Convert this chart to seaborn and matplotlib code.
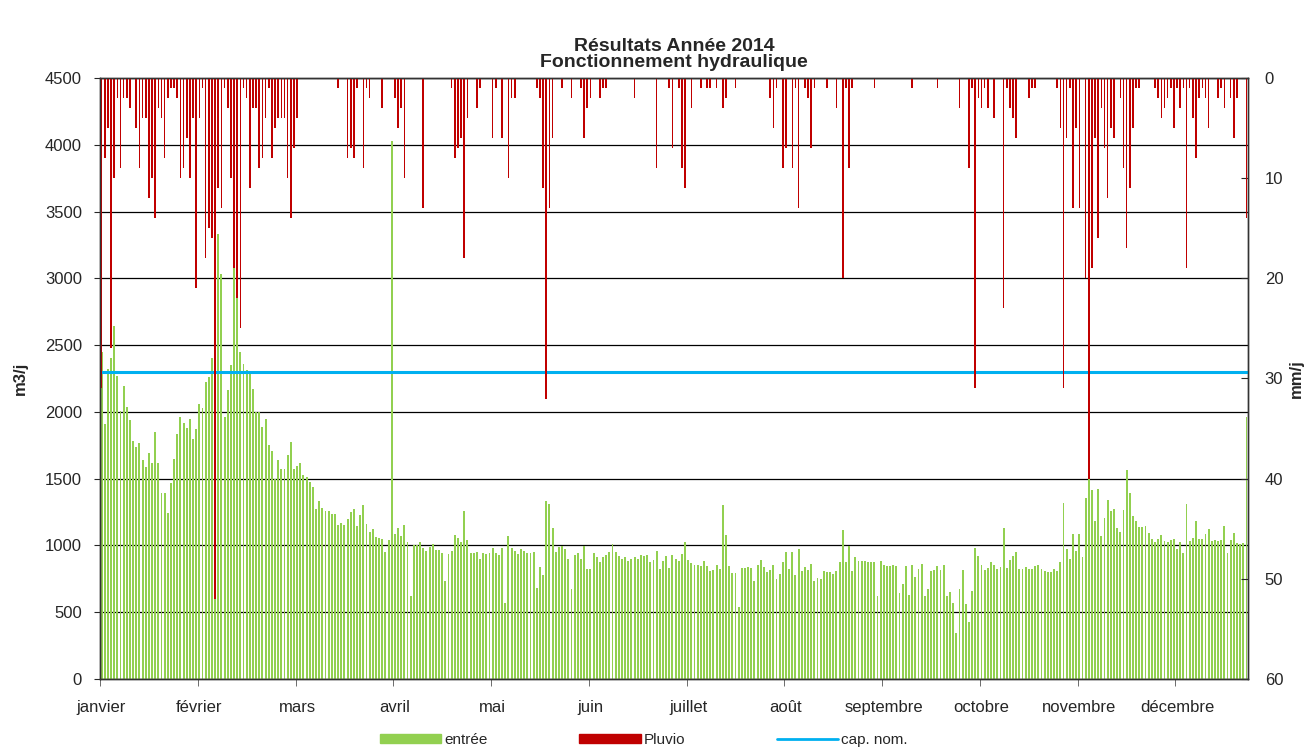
import matplotlib
matplotlib.use('Agg')
import pandas as pd
import matplotlib.pyplot as plt
import seaborn as sns
from matplotlib.patches import Patch
from matplotlib.lines import Line2D

# mois affichés tous les 31 jours (axe par catégories)
mois = ['janvier', 'février', 'mars', 'avril', 'mai', 'juin', 'juillet',
        'août', 'septembre', 'octobre', 'novembre', 'décembre']

# débit journalier entrée station (m3/j)
entree = [
    2450, 1910, 2320, 2400, 2640, 2270, 2010, 2190, 2040, 1940, 1780, 1740, 1765, 1640, 1590, 1695, 1615, 1850, 1620, 1395,
    1390, 1240, 1465, 1650, 1835, 1960, 1915, 1880, 1945, 1800, 1870, 2060, 2030, 2220, 2260, 2400, 2450, 3330, 3030, 1965,
    2160, 2350, 3080, 2850, 2450, 2360, 2315, 2295, 2170, 2000, 2000, 1885, 1950, 1755, 1710, 1500, 1637, 1572, 1572, 1677,
    1777, 1572, 1597, 1615, 1527, 1515, 1475, 1435, 1270, 1333, 1278, 1258, 1258, 1233, 1233, 1153, 1166, 1151, 1196, 1250,
    1270, 1146, 1226, 1303, 1158, 1098, 1121, 1063, 1056, 1046, 949, 1041, 4025, 1083, 1131, 1071, 1151, 1023, 621, 1006,
    1006, 1028, 983, 961, 991, 1008, 966, 966, 946, 734, 933, 958, 1078, 1053, 1028, 1258, 1041, 941, 946, 951,
    899, 941, 939, 944, 981, 946, 929, 983, 571, 1071, 983, 958, 933, 976, 958, 941, 946, 954, 679, 836,
    779, 1333, 1310, 1131, 954, 991, 996, 976, 901, 674, 926, 941, 901, 996, 821, 826, 941, 916, 874, 916,
    926, 951, 1008, 954, 924, 901, 916, 886, 901, 916, 896, 929, 924, 929, 879, 889, 958, 826, 881, 924,
    834, 929, 896, 884, 936, 1028, 891, 869, 854, 854, 849, 884, 846, 809, 814, 856, 824, 1303, 1076, 849,
    794, 794, 541, 829, 831, 841, 829, 736, 854, 891, 841, 804, 816, 856, 749, 789, 874, 951, 824, 951,
    779, 971, 809, 841, 814, 859, 736, 754, 746, 809, 804, 804, 786, 809, 874, 1116, 879, 996, 809, 916,
    884, 884, 884, 876, 876, 876, 621, 884, 851, 849, 849, 851, 844, 646, 711, 849, 631, 854, 766, 826,
    861, 621, 674, 809, 819, 849, 819, 851, 621, 654, 571, 342, 676, 814, 564, 429, 659, 981, 919, 856,
    819, 831, 876, 856, 824, 839, 1131, 831, 894, 919, 951, 826, 826, 841, 824, 826, 849, 851, 824, 809,
    799, 799, 824, 809, 874, 1318, 971, 896, 1086, 961, 1086, 911, 1353, 1800, 1415, 1183, 1420, 1073, 1203, 1338,
    1256, 1273, 1128, 1103, 1265, 1563, 1390, 1220, 1181, 1136, 1136, 1146, 1091, 1046, 1023, 1046, 1078, 1033, 1023, 1041,
    1046, 971, 1023, 946, 1310, 1033, 1056, 1183, 1046, 1046, 1083, 1121, 1036, 1041, 1033, 1041, 1146, 941, 1041, 1091,
    1016, 1008, 1021, 1960,
]

# pluviométrie journalière (mm/j)
pluvio = [
    31, 8, 5, 27, 10, 2, 9, 2, 2, 3, 0, 5, 9, 4, 4, 12, 10, 14, 3, 4,
    8, 2, 1, 1, 2, 10, 9, 6, 10, 4, 21, 4, 1, 18, 15, 16, 52, 11, 13, 1,
    3, 10, 19, 22, 25, 1, 2, 11, 3, 3, 9, 8, 4, 1, 8, 5, 4, 4, 4, 10,
    14, 7, 4, 0, 0, 0, 0, 0, 0, 0, 0, 0, 0, 0, 0, 1, 0, 0, 8, 7,
    8, 1, 0, 9, 1, 2, 0, 0, 0, 3, 0, 0, 0, 2, 5, 3, 10, 0, 0, 0,
    0, 0, 13, 0, 0, 0, 0, 0, 0, 0, 0, 1, 8, 7, 6, 18, 4, 0, 0, 3,
    1, 0, 0, 0, 6, 1, 0, 6, 0, 10, 2, 2, 0, 0, 0, 0, 0, 0, 1, 2,
    11, 32, 13, 6, 0, 0, 1, 0, 0, 2, 0, 0, 1, 6, 3, 2, 0, 0, 2, 1,
    1, 0, 0, 0, 0, 0, 0, 0, 0, 2, 0, 0, 0, 0, 0, 0, 9, 0, 0, 0,
    1, 7, 0, 1, 9, 11, 0, 3, 0, 0, 1, 0, 1, 1, 0, 1, 0, 3, 2, 0,
    0, 1, 0, 0, 0, 0, 0, 0, 0, 0, 0, 0, 2, 5, 1, 0, 9, 7, 0, 9,
    1, 13, 0, 1, 2, 7, 1, 0, 0, 0, 1, 0, 0, 3, 0, 20, 1, 9, 1, 0,
    0, 0, 0, 0, 0, 1, 0, 0, 0, 0, 0, 0, 0, 0, 0, 0, 0, 1, 0, 0,
    0, 0, 0, 0, 0, 1, 0, 0, 0, 0, 0, 0, 3, 0, 0, 9, 1, 31, 2, 3,
    1, 3, 0, 4, 0, 0, 23, 1, 3, 4, 6, 0, 0, 0, 2, 1, 1, 0, 0, 0,
    0, 0, 0, 1, 5, 31, 6, 1, 13, 5, 13, 0, 20, 40, 19, 6, 16, 3, 7, 12,
    5, 6, 0, 2, 9, 17, 11, 5, 1, 1, 0, 0, 0, 0, 1, 2, 4, 3, 2, 1,
    5, 1, 3, 1, 19, 1, 4, 8, 2, 1, 2, 5, 0, 0, 2, 1, 3, 0, 2, 6,
    2, 0, 0, 14,
]

cap_nom = 2300

df = pd.DataFrame({'jour': range(len(entree)), 'entree': entree, 'pluvio': pluvio})

sns.set_style('ticks')
plt.rcParams['font.family'] = ['Liberation Sans', 'DejaVu Sans']

fig = plt.figure(figsize=(13.14, 7.54), dpi=100)
ax = fig.add_axes([0.0761, 0.0995, 0.8737, 0.7971])

sns.barplot(data=df, x='jour', y='entree', color='#92D050', saturation=1,
            width=0.6, errorbar=None, linewidth=0, edgecolor='none', ax=ax)
ax.axhline(cap_nom, color='#00B0F0', lw=2.2, zorder=3)

ax2 = ax.twinx()
sns.barplot(data=df, x='jour', y='pluvio', color='#C00000', saturation=1,
            width=0.5, errorbar=None, linewidth=0, edgecolor='none', ax=ax2)

ax.set_ylim(0, 4500)
ax.set_yticks(range(0, 4501, 500))
ax2.set_ylim(60, 0)
ax2.set_yticks(range(0, 61, 10))
ax.set_xlim(-0.5, len(entree) - 0.5)

pos = [31 * k for k in range(12)]
ax.set_xticks(pos)
ax.set_xticklabels(mois, fontsize=12)
ax.set_xticks([p - 0.5 for p in pos], minor=True)
ax.tick_params(axis='x', which='major', length=0, pad=15)
ax.tick_params(axis='x', which='minor', length=5, direction='out', color='#555555')
ax.tick_params(axis='y', labelsize=12, length=4, direction='out', pad=9)
ax2.tick_params(axis='y', labelsize=12, length=5, direction='in', pad=12)

ax.set_axisbelow(True)
ax.yaxis.grid(True, color='black', lw=0.9)
ax.xaxis.grid(False)
for a in (ax, ax2):
    for s in a.spines.values():
        s.set_color('#333333')
        s.set_linewidth(1.0)

ax.set_xlabel('')
ax2.set_xlabel('')
ax.set_ylabel('m3/j', fontsize=12, fontweight='bold', labelpad=12)
ax2.set_ylabel('mm/j', fontsize=12, fontweight='bold', labelpad=4)
ax.set_title('Résultats Année 2014\nFonctionnement hydraulique',
             fontsize=14, fontweight='bold', pad=8, linespacing=0.95)

handles = [Patch(color='#92D050'), Patch(color='#C00000'),
           Line2D([], [], color='#00B0F0', lw=2)]
fig.legend(handles, ['entrée', 'Pluvio', 'cap. nom.'], loc='center',
           bbox_to_anchor=(0.49, 1 - 740 / 754), ncol=3, frameon=False,
           fontsize=11, handlelength=4, handleheight=0.5, handletextpad=0.2,
           columnspacing=6)

fig.savefig('out.png', dpi=100)
